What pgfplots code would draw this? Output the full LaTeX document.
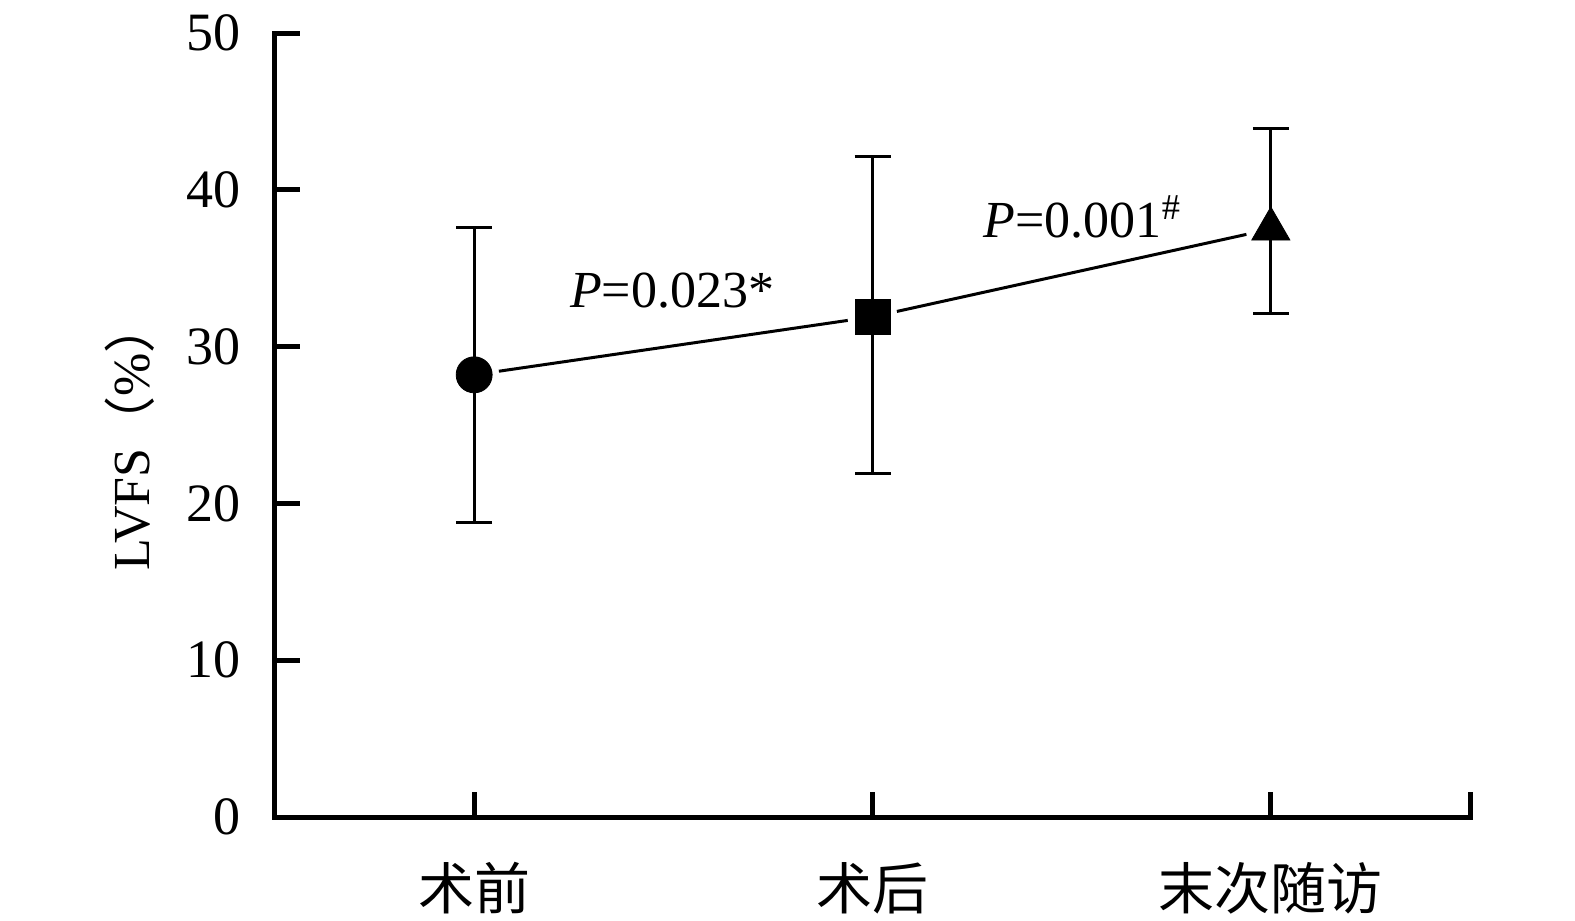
\documentclass[border=0pt]{standalone}
\usepackage{fontspec}
\setmainfont{Liberation Serif}
\newfontfamily\cjk{Noto Sans CJK SC}
\usepackage{pgfplots}
\pgfplotsset{compat=1.18}
\newcommand\fs{\fontsize{26bp}{31bp}\selectfont}
\newcommand\fst{\fontsize{27bp}{32bp}\selectfont}
\newcommand\fsc{\fontsize{28bp}{33bp}\selectfont}
\begin{document}
\begin{tikzpicture}
\useasboundingbox (-137.5bp,-52bp) rectangle (650bp,408.5bp);
\begin{axis}[
  anchor=south west, at={(0,0)},
  scale only axis, width=597.5bp, height=392bp,
  xmin=-0.5, xmax=2.5, ymin=0, ymax=50,
  axis x line=bottom, axis y line=left,
  axis line style={-, line width=2.5bp, line cap=rect},
  tick align=inside, major tick length=12.5bp,
  major tick style={line width=2.5bp, black},
  xtick={0,1,2,2.5}, xticklabels={术前,术后,末次随访,},
  ytick={0,10,20,30,40,50},
  /pgf/number format/assume math mode=true,
  ticklabel style={font=\fst},
  xticklabel style={font=\fsc\cjk, yshift=-19bp},
  yticklabel style={xshift=-13.5bp},
  ylabel={LVFS{\cjk （}\%{\cjk ）}},
  ylabel style={font=\fs, at={(axis description cs:-0.1213,0.486)}, anchor=center},
  clip=false,
]
\addplot[black, line width=1.5bp, shorten <=12.5bp, shorten >=12.5bp] coordinates {(0,28.2) (1,31.9)};
\addplot[black, line width=1.5bp, shorten <=12.5bp, shorten >=12.5bp] coordinates {(1,31.9) (2,37.5)};
\addplot[black, only marks, mark=*, mark size=9bp,
  error bars/.cd, y dir=both, y explicit,
  error bar style={line width=1.5bp, black},
  error mark options={rotate=90, mark size=9bp, line width=1.5bp, black}]
  coordinates {(0,28.2) += (0,9.4) -= (0,9.4)};
\addplot[black, only marks, mark=square*, mark size=8.75bp,
  error bars/.cd, y dir=both, y explicit,
  error bar style={line width=1.5bp, black},
  error mark options={rotate=90, mark size=9bp, line width=1.5bp, black}]
  coordinates {(1,31.9) += (0,10.2) -= (0,10.0)};
\addplot[black, only marks, mark=triangle*, mark size=11bp,
  error bars/.cd, y dir=both, y explicit,
  error bar style={line width=1.5bp, black},
  error mark options={rotate=90, mark size=9bp, line width=1.5bp, black}]
  coordinates {(2,37.5) += (0,6.4) -= (0,5.4)};
\node[font=\fs] at (axis cs:0.497,33.6) {\textit{P}=0.023*};
\node[font=\fs] at (axis cs:1.527,38.3) {\textit{P}=0.001\textsuperscript{\#}};
\end{axis}
\end{tikzpicture}
\end{document}
